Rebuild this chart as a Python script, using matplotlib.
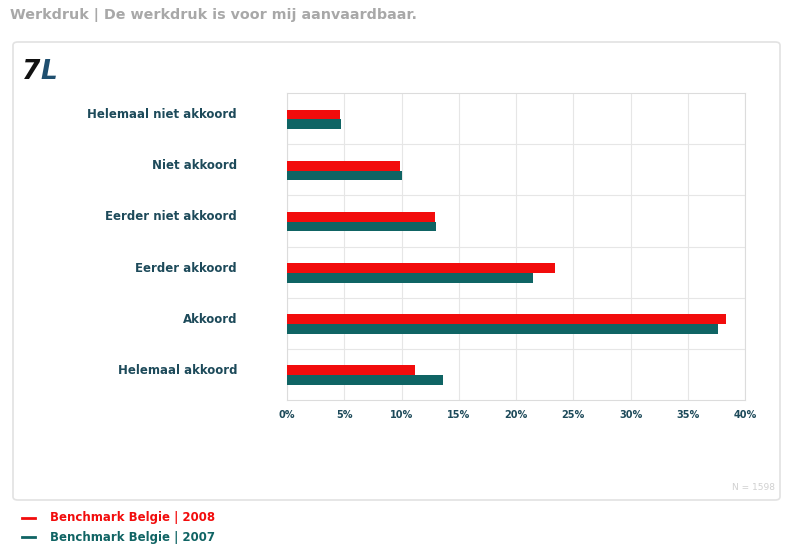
import matplotlib.pyplot as plt
import matplotlib.transforms as mtransforms
from matplotlib.patches import FancyBboxPatch
import numpy as np

categories = ["Helemaal niet akkoord", "Niet akkoord", "Eerder niet akkoord",
              "Eerder akkoord", "Akkoord", "Helemaal akkoord"]
values_2008 = [4.6, 9.9, 12.9, 23.4, 38.3, 11.2]
values_2007 = [4.7, 10.0, 13.0, 21.5, 37.6, 13.6]
series_labels = ["Benchmark Belgie | 2008", "Benchmark Belgie | 2007"]
xticks = [0, 5, 10, 15, 20, 25, 30, 35, 40]

RED = "#f20c0c"
TEAL = "#0f6464"
LABEL = "#1d4a5a"

fig = plt.figure(figsize=(7.94, 5.45), dpi=100)
fig.patch.set_facecolor("white")

# title above the panel
fig.text(10 / 794, 1 - 15 / 545, "Werkdruk | De werkdruk is voor mij aanvaardbaar.",
         color="#a8a8a8", fontsize=10.3, fontweight="bold", va="center", ha="left")

# rounded panel around the chart
panel = FancyBboxPatch((13 / 794, 1 - 500 / 545), 767 / 794, 458 / 545,
                       boxstyle="round,pad=0,rounding_size=0.006",
                       transform=fig.transFigure, facecolor="white",
                       edgecolor="#e2e2e2", linewidth=1.2, zorder=-1)
fig.patches.append(panel)

# logo
fig.text(22 / 794, 1 - 72 / 545, "7", color="#111111", fontsize=19,
         fontweight="bold", fontstyle="italic", va="center", ha="left")
fig.text(40 / 794, 1 - 72 / 545, "L", color="#1f4f6f", fontsize=19,
         fontweight="bold", fontstyle="italic", va="center", ha="left")

ax = fig.add_axes([287 / 794, 1 - 400 / 545, 458 / 794, 307 / 545])

y = np.arange(len(categories))
h = 0.19
ax.barh(y - h / 2 + 0.015, values_2008, height=h, color=RED, zorder=3)
ax.barh(y + h / 2 + 0.015, values_2007, height=h, color=TEAL, zorder=3)

ax.set_xlim(0, 40)
ax.set_ylim(len(categories) - 0.5, -0.5)

ax.set_xticks(xticks)
ax.set_xticklabels([f"{t}%" for t in xticks], fontsize=7, fontweight="bold", color=LABEL)
ax.set_yticks(y)
ax.set_yticklabels(categories, fontsize=8.5, fontweight="bold", color=LABEL)
ax.tick_params(axis="y", length=0, pad=36)
ax.tick_params(axis="x", length=0, pad=7)

# lift the category labels a bit above the bar pairs
offset = mtransforms.ScaledTranslation(0, 4 / 72, fig.dpi_scale_trans)
for lab in ax.get_yticklabels():
    lab.set_transform(lab.get_transform() + offset)

# vertical grid and category separators
ax.grid(axis="x", color="#e6e6e6", linewidth=0.8, zorder=0)
for sep in np.arange(0.5, len(categories) - 0.5, 1):
    ax.axhline(sep, color="#e6e6e6", linewidth=0.8, zorder=0)
for s in ax.spines.values():
    s.set_color("#dcdcdc")
    s.set_linewidth(0.8)

# sample size note
fig.text(775 / 794, 1 - 487 / 545, "N = 1598", color="#d0d0d0", fontsize=6.5,
         ha="right", va="center")

# legend below the panel
colors = [RED, TEAL]
for i, (lab, col) in enumerate(zip(series_labels, colors)):
    yy = 1 - (518 + 19 * i) / 545
    fig.lines.append(plt.Line2D([22 / 794, 35 / 794], [yy, yy], color=col,
                                linewidth=2, transform=fig.transFigure))
    fig.text(50 / 794, yy, lab, color=col, fontsize=8.5, fontweight="bold",
             ha="left", va="center")

fig.savefig("out.png", dpi=100)
